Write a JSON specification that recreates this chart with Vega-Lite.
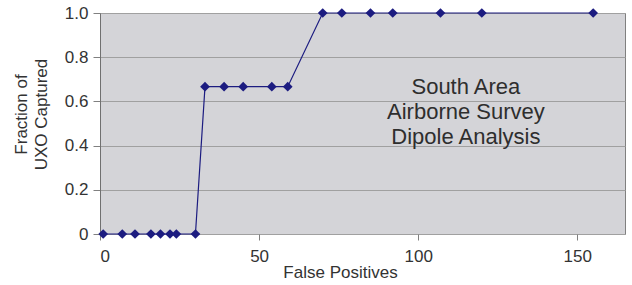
{
  "$schema": "https://vega.github.io/schema/vega-lite/v6.json",
  "autosize": {"type": "none"},
  "padding": {"left": 100, "top": 13, "right": 7, "bottom": 51},
  "width": 525,
  "height": 221,
  "background": "white",
  "config": {
    "font": "Liberation Sans",
    "view": {"fill": "#d4d4d8", "stroke": "#808080", "strokeWidth": 1},
    "axis": {"labelFont": "Liberation Sans", "titleFont": "Liberation Sans", "labelColor": "#333333", "titleColor": "#333333", "labelFontSize": 17, "titleFontSize": 17, "titleFontWeight": "normal"}
  },
  "datasets": {
    "pts": [
      {"fp": 1, "frac": 0}, {"fp": 7, "frac": 0}, {"fp": 11, "frac": 0}, {"fp": 16, "frac": 0},
      {"fp": 19, "frac": 0}, {"fp": 22, "frac": 0}, {"fp": 24, "frac": 0}, {"fp": 30, "frac": 0},
      {"fp": 33, "frac": 0.6667}, {"fp": 39, "frac": 0.6667}, {"fp": 45, "frac": 0.6667},
      {"fp": 54, "frac": 0.6667}, {"fp": 59, "frac": 0.6667},
      {"fp": 70, "frac": 1}, {"fp": 76, "frac": 1}, {"fp": 85, "frac": 1}, {"fp": 92, "frac": 1},
      {"fp": 107, "frac": 1}, {"fp": 120, "frac": 1}, {"fp": 155, "frac": 1}
    ],
    "note": [{"fp": 115, "frac": 0.665, "label": "South Area\nAirborne Survey\nDipole Analysis"}]
  },
  "layer": [
    {
      "data": {"name": "pts"},
      "mark": {"type": "line", "color": "#1c1c80", "strokeWidth": 1.2, "clip": false},
      "encoding": {
        "x": {"field": "fp", "type": "quantitative", "scale": {"domain": [0, 165], "nice": false},
          "axis": {"values": [0, 50, 100, 150], "grid": false, "domain": false, "tickColor": "#808080", "tickSize": 6, "labelPadding": 8, "title": "False Positives", "titlePadding": 0, "titleX": 240}},
        "y": {"field": "frac", "type": "quantitative", "scale": {"domain": [0, 1], "nice": false},
          "axis": {"values": [0, 0.2, 0.4, 0.6, 0.8, 1], "grid": true, "gridColor": "#a0a0a0", "domainColor": "#707070", "tickColor": "#808080", "tickSize": 7, "labelPadding": 5,
            "labelExpr": "datum.value == 0 ? '0' : format(datum.value, '.1f')",
            "title": ["Fraction of", "UXO Captured"], "titlePadding": 14, "titleLineHeight": 20, "titleY": 101}}
      }
    },
    {
      "data": {"name": "pts"},
      "mark": {"type": "point", "shape": "diamond", "filled": true, "color": "#1c1c80", "size": 95, "opacity": 1, "clip": false},
      "encoding": {
        "x": {"field": "fp", "type": "quantitative"},
        "y": {"field": "frac", "type": "quantitative"}
      }
    },
    {
      "data": {"name": "note"},
      "mark": {"type": "text", "fontSize": 22, "color": "#2e2e2e", "align": "center", "baseline": "middle", "lineBreak": "\n", "lineHeight": 25, "font": "Liberation Sans"},
      "encoding": {
        "x": {"field": "fp", "type": "quantitative"},
        "y": {"field": "frac", "type": "quantitative"},
        "text": {"field": "label"}
      }
    }
  ]
}
